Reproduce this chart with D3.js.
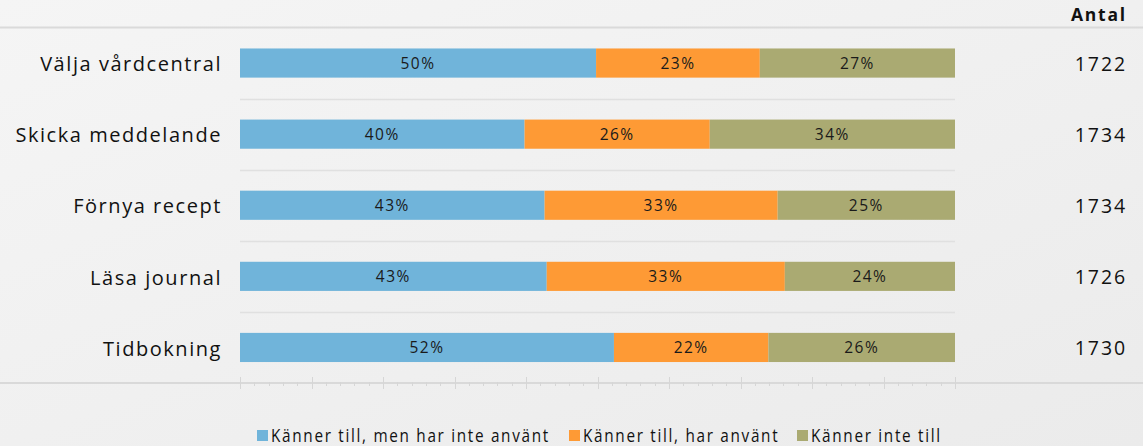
<!DOCTYPE html>
<html>
<head>
<meta charset="utf-8">
<script src="https://cdn.jsdelivr.net/npm/d3@7"></script>
<style>
	body { margin: 0; overflow: hidden; }
	svg { display: block; font-family: "Open Sans", sans-serif; }
</style>
</head>
<body>
<svg></svg>
<script>
const categories = ["Välja vårdcentral", "Skicka meddelande", "Förnya recept", "Läsa journal", "Tidbokning"];
const seriesNames = ["Känner till, men har inte använt", "Känner till, har använt", "Känner inte till"];
const notUsed = [49.8, 39.8, 42.6, 42.9, 52.3];
const used = [22.9, 25.9, 32.6, 33.3, 21.6];
const unknown = [27.3, 34.3, 24.8, 23.8, 26.1];
const antal = [1722, 1734, 1734, 1726, 1730];
const colors = ["#70b4da", "#fe9a35", "#aaaa72"];

const size = { w: 1143, h: 446 };
const margin = { t: 27.5, r: 188, b: 63, l: 240 };
const svg = d3.select("svg").attr("width", size.w).attr("height", size.h);

// background gradient
const defs = svg.append("defs");
const grad = defs.append("linearGradient").attr("id", "bg")
	.attr("x1", "0%").attr("y1", "0%").attr("x2", "100%").attr("y2", "100%");
grad.append("stop").attr("offset", "0%").attr("stop-color", "#f5f5f5");
grad.append("stop").attr("offset", "100%").attr("stop-color", "#ebebeb");
svg.append("rect").attr("width", size.w).attr("height", size.h).attr("fill", "url(#bg)");

const rows = categories.map((c, i) => ({ cat: c, vals: [notUsed[i], used[i], unknown[i]], n: antal[i] }));

const x = d3.scaleLinear().domain([0, 100]).range([margin.l, size.w - margin.r]);
const y = d3.scaleBand().domain(categories).range([margin.t, size.h - margin.b])
	.paddingInner(0.59).paddingOuter(0.295);

// top line
svg.append("line").attr("x1", 0).attr("x2", size.w)
	.attr("y1", margin.t).attr("y2", margin.t)
	.attr("stroke", "#dadada").attr("stroke-width", 2);

// gridlines between categories
const step = y.step();
svg.append("g").selectAll("line")
	.data(categories.slice(1))
	.join("line")
	.attr("x1", x(0)).attr("x2", x(100))
	.attr("y1", d => Math.round(y(d) - step * 0.295) + 0.5)
	.attr("y2", d => Math.round(y(d) - step * 0.295) + 0.5)
	.attr("stroke", "#e0e0e0").attr("stroke-width", 1.5);

// stacked bars
const stack = rows.map(r => {
	let acc = 0;
	return r.vals.map((v, k) => {
		const s = { cat: r.cat, k: k, x0: acc, x1: acc + v, v: v };
		acc += v;
		return s;
	});
}).flat();

const barG = svg.append("g");
barG.selectAll("rect")
	.data(stack)
	.join("rect")
	.attr("x", d => x(d.x0))
	.attr("width", d => x(d.x1) - x(d.x0))
	.attr("y", d => y(d.cat))
	.attr("height", y.bandwidth())
	.attr("fill", d => colors[d.k]);

barG.selectAll("text")
	.data(stack)
	.join("text")
	.attr("x", d => (x(d.x0) + x(d.x1)) / 2)
	.attr("y", d => y(d.cat) + y.bandwidth() / 2)
	.attr("dy", "0.36em")
	.attr("text-anchor", "middle")
	.attr("font-size", 15.5)
	.attr("letter-spacing", 1.5)
	.attr("fill", "#1a1a1a")
	.text(d => Math.round(d.v) + "%");

// category labels
svg.append("g").selectAll("text")
	.data(categories)
	.join("text")
	.attr("x", 222)
	.attr("y", d => y(d) + y.bandwidth() / 2 + 1)
	.attr("dy", "0.36em")
	.attr("text-anchor", "end")
	.attr("font-size", 20)
	.attr("letter-spacing", 1.55)
	.attr("fill", "#111")
	.text(d => d);

// antal column
svg.append("text")
	.attr("x", 1127).attr("y", 21)
	.attr("text-anchor", "end")
	.attr("font-size", 17.5)
	.attr("font-weight", "bold")
	.attr("letter-spacing", 1.8)
	.attr("fill", "#111")
	.text("Antal");

svg.append("g").selectAll("text")
	.data(rows)
	.join("text")
	.attr("x", 1127)
	.attr("y", d => y(d.cat) + y.bandwidth() / 2 + 1)
	.attr("dy", "0.36em")
	.attr("text-anchor", "end")
	.attr("font-size", 19.5)
	.attr("letter-spacing", 1.9)
	.attr("fill", "#111")
	.text(d => d.n);

// bottom axis
const axisY = size.h - margin.b;
svg.append("line").attr("x1", 0).attr("x2", size.w)
	.attr("y1", axisY).attr("y2", axisY)
	.attr("stroke", "#d9d9d9").attr("stroke-width", 2);

const axisG = svg.append("g");
axisG.selectAll("line.minor")
	.data(d3.range(0, 101, 2).filter(v => v % 10 !== 0))
	.join("line").attr("class", "minor")
	.attr("x1", d => Math.round(x(d)) + 0.5).attr("x2", d => Math.round(x(d)) + 0.5)
	.attr("y1", axisY - 1).attr("y2", axisY + 3)
	.attr("stroke", "#d6d6d6");
axisG.selectAll("line.major")
	.data(d3.range(0, 101, 10))
	.join("line").attr("class", "major")
	.attr("x1", d => Math.round(x(d)) + 0.5).attr("x2", d => Math.round(x(d)) + 0.5)
	.attr("y1", axisY - 6).attr("y2", axisY + 6)
	.attr("stroke", "#d6d6d6");

// legend
const legendX = [257, 569, 797];
const legG = svg.append("g").attr("transform", "translate(0,430)");
const items = legG.selectAll("g")
	.data(seriesNames)
	.join("g")
	.attr("transform", (d, i) => `translate(${legendX[i]},0)`);
items.append("rect").attr("width", 11).attr("height", 11)
	.attr("fill", (d, i) => colors[i]);
items.append("text")
	.attr("x", 14).attr("y", 12)
	.attr("font-size", 18)
	.attr("letter-spacing", 2)
	.attr("fill", "#111")
	.attr("transform", "scale(0.85,1)")
	.attr("transform-origin", "14 12")
	.text(d => d);
</script>
</body>
</html>
